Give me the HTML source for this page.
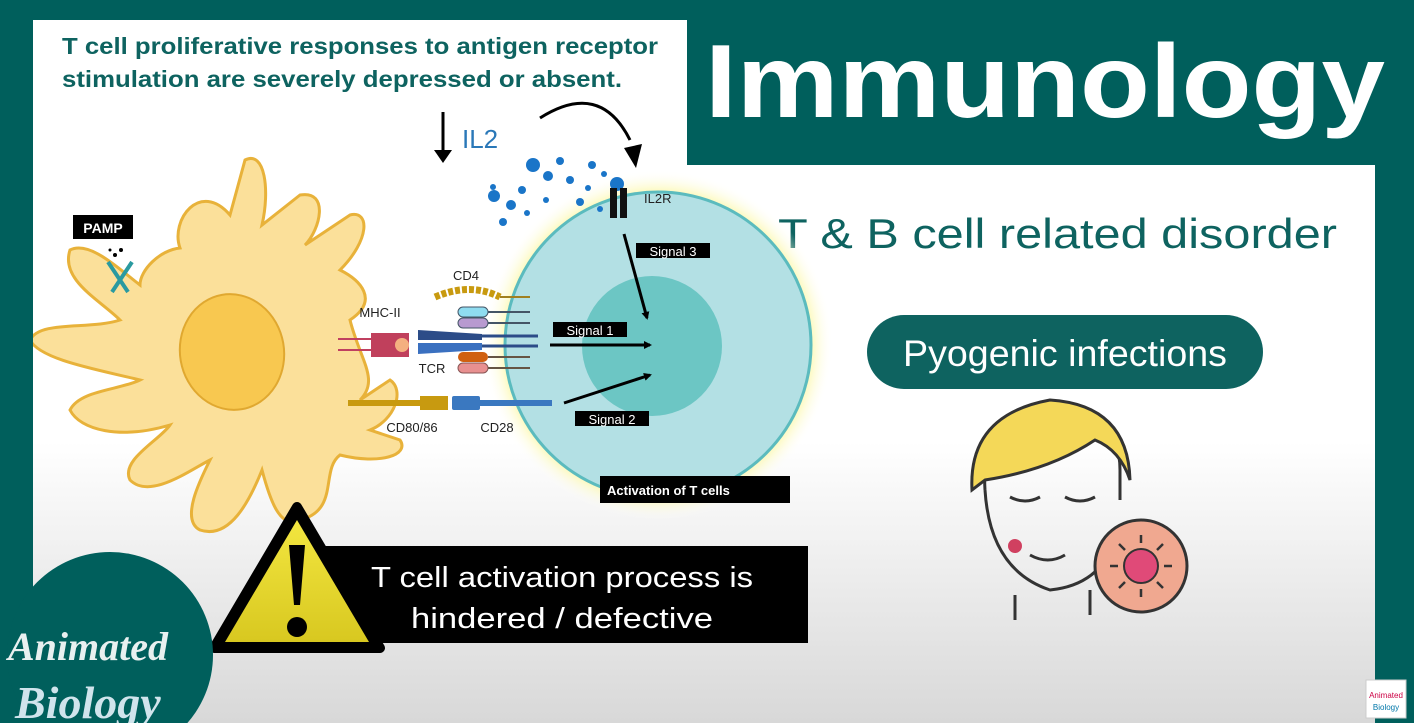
<!DOCTYPE html>
<html><head><meta charset="utf-8"><style>
html,body{margin:0;padding:0}
body{width:1414px;height:723px;overflow:hidden;background:#005f5c;font-family:"Liberation Sans",sans-serif}
</style></head><body>
<svg width="1414" height="723" viewBox="0 0 1414 723" xmlns="http://www.w3.org/2000/svg" style="position:absolute;left:0;top:0">
<defs>
<linearGradient id="bg" x1="0" y1="0" x2="0" y2="1">
<stop offset="0" stop-color="#ffffff"/><stop offset="0.6" stop-color="#ffffff"/><stop offset="1" stop-color="#d8d8d8"/></linearGradient>
<radialGradient id="glow"><stop offset="0.85" stop-color="#fbf7a0"/><stop offset="1" stop-color="#ffffff" stop-opacity="0"/></radialGradient>
<linearGradient id="warn" x1="0" y1="0" x2="0" y2="1"><stop offset="0" stop-color="#f3e640"/><stop offset="1" stop-color="#d8c820"/></linearGradient>
<marker id="ah" markerWidth="8" markerHeight="8" refX="6" refY="4" orient="auto" markerUnits="userSpaceOnUse"><path d="M0,0 L8,4 L0,8 z" fill="#000"/></marker>
</defs>
<path d="M33,20 H687 V165 H1375 V723 H33 Z" fill="url(#bg)"/>
<!-- title -->
<text x="705" y="117" font-size="104" font-weight="bold" fill="#fff" textLength="680" lengthAdjust="spacingAndGlyphs">Immunology</text>
<text x="62" y="54" font-size="23" font-weight="bold" fill="#0e6360" textLength="596" lengthAdjust="spacingAndGlyphs">T cell proliferative responses to antigen receptor</text>
<text x="62" y="87" font-size="23" font-weight="bold" fill="#0e6360" textLength="560" lengthAdjust="spacingAndGlyphs">stimulation are severely depressed or absent.</text>
<text x="778" y="248" font-size="42" fill="#0e6360" textLength="559" lengthAdjust="spacingAndGlyphs">T &amp; B cell related disorder</text>
<rect x="867" y="315" width="396" height="74" rx="37" fill="#0e6360"/>
<text x="903" y="366" font-size="37" fill="#fff" textLength="324" lengthAdjust="spacingAndGlyphs">Pyogenic infections</text>
<!-- IL2 -->
<line x1="443" y1="112" x2="443" y2="155" stroke="#000" stroke-width="3"/>
<path d="M434,150 L443,163 L452,150 z" fill="#000"/>
<text x="462" y="148" font-size="26" fill="#2a78b8">IL2</text>
<path d="M540,118 Q600,80 630,140" fill="none" stroke="#000" stroke-width="3"/>
<path d="M624,148 L636,168 L642,144 z" fill="#000"/>
<!-- dendritic cell -->
<path d="M180,248 C170,220 200,180 230,215 L245,160 C265,150 270,190 262,225 L300,195 C330,190 320,230 305,245 L350,215 C370,210 370,240 340,270 C360,280 380,300 350,320 C360,360 380,380 360,400 L390,380 C405,390 395,420 370,430 L400,440 C410,455 380,465 340,455 C320,470 340,510 300,520 C280,530 270,500 262,470 C250,500 230,540 200,530 C180,520 200,480 210,460 C190,470 150,500 130,480 C120,460 160,440 170,425 C120,440 80,430 70,410 C80,390 120,390 140,380 C100,370 40,360 30,340 C40,320 90,330 120,320 C100,300 60,280 70,250 C90,240 120,270 140,285 C140,270 160,250 180,248 Z" fill="#fbe09a" stroke="#e8b23a" stroke-width="3"/>
<ellipse cx="232" cy="352" rx="52" ry="58" fill="#f8c850" stroke="#e0a830" stroke-width="2" transform="rotate(-10 232 352)"/>
<rect x="73" y="215" width="60" height="24" fill="#000"/>
<text x="103" y="233" font-size="14" font-weight="bold" fill="#fff" text-anchor="middle">PAMP</text>
<path d="M108,262 L120,280 L112,292 M132,262 L120,280 L128,292" stroke="#2a9aa0" stroke-width="4" fill="none"/>
<circle cx="115" cy="255" r="2" fill="#000"/><circle cx="121" cy="250" r="2" fill="#000"/><circle cx="110" cy="250" r="1.5" fill="#000"/>
<!-- T cell -->
<circle cx="658" cy="345" r="175" fill="url(#glow)"/>
<circle cx="658" cy="345" r="153" fill="#b3e0e4" stroke="#5bbbbe" stroke-width="3"/>
<circle cx="652" cy="346" r="70" fill="#6cc6c4"/>
<!-- IL2 dots -->
<g fill="#1a75c8">
<circle cx="494" cy="196" r="6"/><circle cx="533" cy="165" r="7"/><circle cx="511" cy="205" r="5"/><circle cx="522" cy="190" r="4"/><circle cx="548" cy="176" r="5"/><circle cx="560" cy="161" r="4"/><circle cx="570" cy="180" r="4"/><circle cx="592" cy="165" r="4"/><circle cx="580" cy="202" r="4"/><circle cx="503" cy="222" r="4"/><circle cx="527" cy="213" r="3"/><circle cx="604" cy="174" r="3"/><circle cx="588" cy="188" r="3"/><circle cx="546" cy="200" r="3"/><circle cx="493" cy="187" r="3"/><circle cx="617" cy="184" r="7"/><circle cx="600" cy="209" r="3"/></g>
<rect x="610" y="188" width="7" height="30" fill="#111"/><rect x="620" y="188" width="7" height="30" fill="#111"/>
<text x="644" y="203" font-size="13" fill="#222">IL2R</text>
<!-- signals -->
<line x1="624" y1="234" x2="647" y2="318" stroke="#000" stroke-width="3" marker-end="url(#ah)"/>
<rect x="636" y="243" width="74" height="15" fill="#000"/><text x="673" y="256" font-size="13" fill="#fff" text-anchor="middle">Signal 3</text>
<rect x="553" y="322" width="74" height="15" fill="#000"/><text x="590" y="335" font-size="13" fill="#fff" text-anchor="middle">Signal 1</text>
<line x1="550" y1="345" x2="650" y2="345" stroke="#000" stroke-width="3" marker-end="url(#ah)"/>
<line x1="564" y1="403" x2="650" y2="375" stroke="#000" stroke-width="3" marker-end="url(#ah)"/>
<rect x="575" y="411" width="74" height="15" fill="#000"/><text x="612" y="424" font-size="13" fill="#fff" text-anchor="middle">Signal 2</text>
<rect x="600" y="476" width="190" height="27" fill="#000"/><text x="607" y="495" font-size="13" font-weight="bold" fill="#fff">Activation of T cells</text>
<!-- receptors -->
<path d="M435,297 Q470,282 500,297" stroke="#c89a10" stroke-width="7" fill="none" stroke-dasharray="5 2"/>
<line x1="500" y1="297" x2="530" y2="297" stroke="#a08020" stroke-width="2"/>
<text x="466" y="280" font-size="13" fill="#222" text-anchor="middle">CD4</text>
<rect x="458" y="307" width="30" height="10" rx="5" fill="#8fdcf0" stroke="#456" stroke-width="1"/><line x1="488" y1="312" x2="530" y2="312" stroke="#456" stroke-width="2"/>
<rect x="458" y="318" width="30" height="10" rx="5" fill="#b89ad0" stroke="#456" stroke-width="1"/><line x1="488" y1="323" x2="530" y2="323" stroke="#456" stroke-width="2"/>
<path d="M418,330 L482,334 L482,340 L418,340 Z" fill="#2c4c88"/><line x1="482" y1="336" x2="538" y2="336" stroke="#2c4c88" stroke-width="3"/>
<path d="M418,343 L482,343 L482,350 L418,354 Z" fill="#3a70c0"/><line x1="482" y1="346" x2="538" y2="346" stroke="#2c4c88" stroke-width="3"/>
<rect x="458" y="352" width="30" height="10" rx="5" fill="#d06010"/><line x1="488" y1="357" x2="530" y2="357" stroke="#654" stroke-width="2"/>
<rect x="458" y="363" width="30" height="10" rx="5" fill="#e89090" stroke="#855" stroke-width="1"/><line x1="488" y1="368" x2="530" y2="368" stroke="#654" stroke-width="2"/>
<text x="432" y="373" font-size="13" fill="#222" text-anchor="middle">TCR</text>
<text x="380" y="317" font-size="13" fill="#222" text-anchor="middle">MHC-II</text>
<line x1="338" y1="339" x2="372" y2="339" stroke="#c04060" stroke-width="2"/><line x1="338" y1="350" x2="372" y2="350" stroke="#c04060" stroke-width="2"/>
<rect x="371" y="333" width="38" height="24" fill="#c0405c"/>
<circle cx="402" cy="345" r="7" fill="#f4b080"/>
<rect x="348" y="400" width="72" height="6" fill="#c89a10"/><rect x="420" y="396" width="28" height="14" fill="#c89a10"/>
<rect x="452" y="396" width="28" height="14" rx="2" fill="#3a78c0"/><rect x="480" y="400" width="72" height="6" fill="#3a78c0"/>
<text x="412" y="432" font-size="13" fill="#222" text-anchor="middle">CD80/86</text>
<text x="497" y="432" font-size="13" fill="#222" text-anchor="middle">CD28</text>
<!-- warning -->
<rect x="320" y="546" width="488" height="97" fill="#000"/>
<text x="371" y="587" font-size="29" fill="#fff" textLength="382" lengthAdjust="spacingAndGlyphs">T cell activation process is</text>
<text x="411" y="628" font-size="29" fill="#fff" textLength="302" lengthAdjust="spacingAndGlyphs">hindered / defective</text>
<path d="M297,507 L380,648 L214,648 Z" fill="#000" stroke="#000" stroke-width="10" stroke-linejoin="round"/>
<path d="M297,520 L369,642 L225,642 Z" fill="url(#warn)"/>
<path d="M289,545 L305,545 L300,605 L294,605 Z" fill="#000"/>
<circle cx="297" cy="627" r="10" fill="#000"/>
<!-- face -->
<g fill="none" stroke="#333" stroke-width="3">
<path d="M985,490 Q980,410 1050,405 Q1120,410 1120,470 L1120,500"/>
<path d="M985,490 Q990,570 1050,590 Q1100,585 1115,540"/>
<path d="M1015,595 L1015,620 M1090,590 L1090,615"/>
<path d="M1010,497 Q1025,505 1040,497 M1065,497 Q1080,505 1095,497"/>
<path d="M1030,555 Q1048,565 1065,555"/>
</g>
<path d="M972,490 Q968,415 1050,400 Q1128,405 1130,480 Q1120,450 1095,440 Q1050,470 985,480 Z" fill="#f4d858" stroke="#333" stroke-width="3"/>
<circle cx="1015" cy="546" r="7" fill="#d04060"/>
<circle cx="1141" cy="566" r="46" fill="#f0a890" stroke="#333" stroke-width="3"/>
<circle cx="1141" cy="566" r="17" fill="#e04a78" stroke="#333" stroke-width="2"/>
<g stroke="#333" stroke-width="2.5"><line x1="1141" y1="535" x2="1141" y2="543"/><line x1="1141" y1="589" x2="1141" y2="597"/><line x1="1110" y1="566" x2="1118" y2="566"/><line x1="1164" y1="566" x2="1172" y2="566"/><line x1="1119" y1="544" x2="1125" y2="550"/><line x1="1157" y1="582" x2="1163" y2="588"/><line x1="1163" y1="544" x2="1157" y2="550"/><line x1="1119" y1="588" x2="1125" y2="582"/></g>
<!-- logo -->
<rect x="0" y="0" width="33" height="590" fill="#005f5c"/>
<circle cx="110" cy="655" r="103" fill="#005f5c"/>
<text x="8" y="660" font-size="40" font-style="italic" font-weight="bold" fill="#e8f0f0" font-family="Liberation Serif">Animated</text>
<text x="15" y="718" font-size="46" font-style="italic" font-weight="bold" fill="#d0e4ec" font-family="Liberation Serif">Biology</text>
<rect x="1366" y="680" width="40" height="38" fill="#fff" stroke="#ccc"/>
<text x="1386" y="698" font-size="8" fill="#c04" text-anchor="middle">Animated</text>
<text x="1386" y="710" font-size="8" fill="#07a" text-anchor="middle">Biology</text>
</svg>
</body></html>
